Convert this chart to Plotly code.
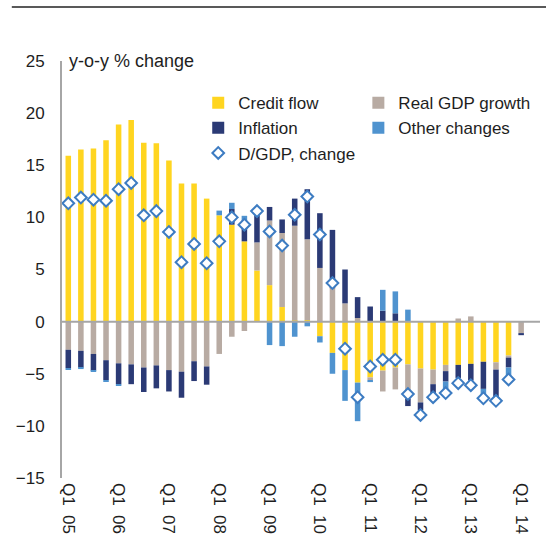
import plotly.graph_objects as go

quarters = ["Q1 05", "Q2 05", "Q3 05", "Q4 05", "Q1 06", "Q2 06", "Q3 06", "Q4 06",
            "Q1 07", "Q2 07", "Q3 07", "Q4 07", "Q1 08", "Q2 08", "Q3 08", "Q4 08",
            "Q1 09", "Q2 09", "Q3 09", "Q4 09", "Q1 10", "Q2 10", "Q3 10", "Q4 10",
            "Q1 11", "Q2 11", "Q3 11", "Q4 11", "Q1 12", "Q2 12", "Q3 12", "Q4 12",
            "Q1 13", "Q2 13", "Q3 13", "Q4 13", "Q1 14"]

credit_flow = [15.9, 16.5, 16.6, 17.4, 18.9, 19.35, 17.15, 17.1, 15.45, 13.25, 13.25, 11.8,
               10.2, 9.3, 7.7, 4.9, 3.5, 1.4, 0.1, 0.15, -1.4, -3.0, -4.65, -5.85,
               -5.35, -4.7, -4.4, -4.1, -4.5, -4.6, -4.15, -4.15, -4.05, -3.85, -3.9, -3.25, 0]
real_gdp = [-2.7, -2.8, -3.1, -3.7, -4.0, -4.1, -4.4, -4.2, -4.65, -4.8, -3.8, -4.3,
            -3.1, -1.45, -0.9, 2.7, 6.2, 7.1, 9.1, 7.75, 5.15, 3.2, 1.75, 0.35,
            -0.25, -2.0, -2.1, -3.3, -3.25, -1.4, -0.6, 0.3, 0.5, 0, -0.7, -0.2, -1.1]
inflation = [-1.75, -1.6, -1.6, -1.9, -2.0, -1.9, -2.35, -2.2, -2.05, -2.5, -1.9, -1.75,
             0, 1.5, 2.0, 2.6, 1.3, 1.3, 2.6, 4.8, 5.25, 5.6, 3.25, 2.0,
             1.45, 1.05, 0.8, -0.7, -0.75, -0.9, -1.0, -1.25, -1.6, -2.6, -2.65, -0.95, -0.2]
other_changes = [-0.15, -0.15, -0.1, -0.15, -0.15, 0, 0, 0, 0, 0, 0, 0,
                 0.45, 0.6, 0.45, 0, -2.25, -2.35, -1.45, -0.45, -0.6, -2.0, -2.95, -3.7,
                 -0.2, 2.0, 2.1, 1.15, 0, 0, -0.85, 0, 0, -0.5, 0, -0.8, 0]
dgdp_change = [11.35, 11.9, 11.7, 11.6, 12.7, 13.3, 10.2, 10.6, 8.6, 5.7, 7.45, 5.6,
               7.7, 10.0, 9.3, 10.6, 8.65, 7.3, 10.25, 12.0, 8.35, 3.7, -2.6, -7.25,
               -4.3, -3.65, -3.65, -6.95, -8.95, -7.25, -6.85, -5.9, -6.1, -7.35, -7.6, -5.55, None]

tick_quarters = ["Q1 05", "Q1 06", "Q1 07", "Q1 08", "Q1 09", "Q1 10", "Q1 11", "Q1 12", "Q1 13", "Q1 14"]
tick_text = [q.replace(" ", "\u00a0\u00a0") for q in tick_quarters]
y_ticks = [-15, -10, -5, 0, 5, 10, 15, 20, 25]

FONT = "Arial, Liberation Sans, sans-serif"
TXT = "#1e1e1e"

fig = go.Figure()
fig.add_trace(go.Bar(x=quarters, y=credit_flow, name="Credit flow", marker_color="#FFD520",
                     marker_line_width=0, legend="legend"))
fig.add_trace(go.Bar(x=quarters, y=real_gdp, name="Real GDP growth", marker_color="#B8ABA3",
                     marker_line_width=0, legend="legend2"))
fig.add_trace(go.Bar(x=quarters, y=inflation, name="Inflation", marker_color="#2B3A75",
                     marker_line_width=0, legend="legend"))
fig.add_trace(go.Bar(x=quarters, y=other_changes, name="Other changes", marker_color="#4F93CF",
                     marker_line_width=0, legend="legend2"))
fig.add_trace(go.Scatter(x=quarters, y=dgdp_change, name="D/GDP, change", mode="markers",
                         marker=dict(symbol="diamond", size=9, color="white",
                                     line=dict(color="#3D7CC2", width=2)),
                         legend="legend"))

fig.update_layout(
    width=546, height=542,
    margin=dict(l=62, r=6, t=61, b=64),
    paper_bgcolor="white", plot_bgcolor="white",
    barmode="relative", bargap=0.56,
    font=dict(family=FONT, size=17, color=TXT),
    showlegend=True,
    legend=dict(x=0.285, y=0.942, xanchor="left", yanchor="top", bgcolor="rgba(0,0,0,0)",
                font=dict(size=17, color=TXT), traceorder="normal", tracegroupgap=0),
    legend2=dict(x=0.62, y=0.942, xanchor="left", yanchor="top", bgcolor="rgba(0,0,0,0)",
                 font=dict(size=17, color=TXT), traceorder="normal", tracegroupgap=0),
    xaxis=dict(type="category", categoryorder="array", categoryarray=quarters,
               range=[-0.5, 37.5], tickmode="array", tickvals=tick_quarters, ticktext=tick_text,
               tickangle=90, showgrid=False, showline=False, zeroline=False, ticks="",
               automargin=False, ticklabelstandoff=4, tickfont=dict(size=17, color=TXT)),
    yaxis=dict(range=[-15, 25], tickmode="array", tickvals=y_ticks, showgrid=False,
               showline=True, linecolor="#A6A6A6", linewidth=2, zeroline=False, ticks="",
               automargin=False, ticklabelstandoff=12, tickfont=dict(size=17, color=TXT)),
    annotations=[dict(text="y-o-y % change", xref="paper", yref="y", x=0.01, y=25,
                      xanchor="left", yanchor="middle", showarrow=False,
                      font=dict(size=18, color=TXT))],
    shapes=[
        dict(type="line", xref="paper", yref="y", x0=0, x1=1, y0=0, y1=0,
             line=dict(color="#A6A6A6", width=2), layer="above"),
        dict(type="line", xref="paper", yref="paper", x0=-0.105, x1=1.02, y0=1.1295, y1=1.1295,
             line=dict(color="#222222", width=1.5)),
    ],
)

fig.write_html("out.html", config={"displayModeBar": False},
               post_script="document.body.style.margin='0';")
